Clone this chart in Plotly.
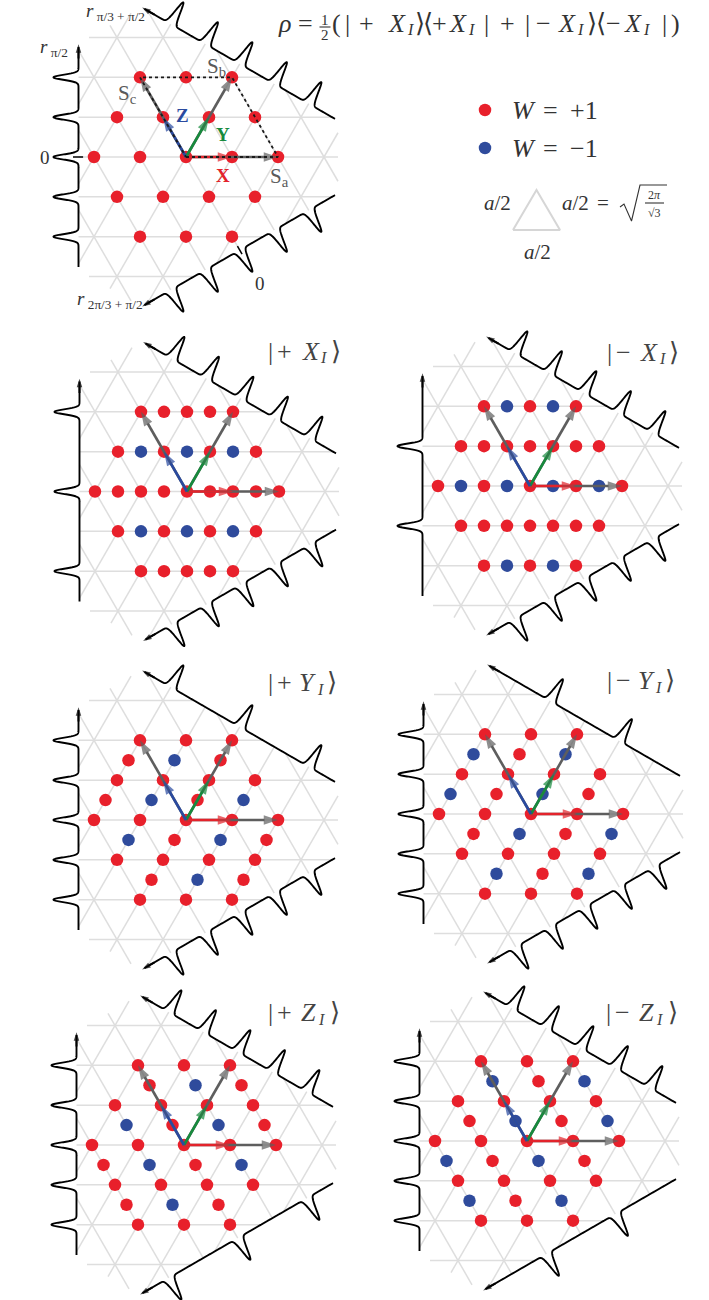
import numpy as np
import plotly.graph_objects as go

# ---------------- data ----------------
# dots: rows of (half-row index, x in quarter lattice units, W value)
RHO_ROWS = [
    (4, [-4, 0, 4], [1, 1, 1]),
    (2, [-6, -2, 2, 6], [1, 1, 1, 1]),
    (0, [-8, -4, 0, 4, 8], [1, 1, 1, 1, 1]),
    (-2, [-6, -2, 2, 6], [1, 1, 1, 1]),
    (-4, [-4, 0, 4], [1, 1, 1]),
]
PX_ROWS = [
    (4, [-4, -2, 0, 2, 4], [1, 1, 1, 1, 1]),
    (2, [-6, -4, -2, 0, 2, 4, 6], [1, -1, 1, -1, 1, -1, 1]),
    (0, [-8, -6, -4, -2, 0, 2, 4, 6, 8], [1, 1, 1, 1, 1, 1, 1, 1, 1]),
    (-2, [-6, -4, -2, 0, 2, 4, 6], [1, -1, 1, -1, 1, -1, 1]),
    (-4, [-4, -2, 0, 2, 4], [1, 1, 1, 1, 1]),
]
MX_ROWS = [
    (4, [-4, -2, 0, 2, 4], [1, -1, 1, -1, 1]),
    (2, [-6, -4, -2, 0, 2, 4, 6], [1, 1, 1, 1, 1, 1, 1]),
    (0, [-8, -6, -4, -2, 0, 2, 4, 6, 8], [1, -1, 1, -1, 1, -1, 1, -1, 1]),
    (-2, [-6, -4, -2, 0, 2, 4, 6], [1, 1, 1, 1, 1, 1, 1]),
    (-4, [-4, -2, 0, 2, 4], [1, -1, 1, -1, 1]),
]
PY_ROWS = [
    (4, [-4, 0, 4], [1, 1, 1]),
    (3, [-5, -1, 3], [1, -1, 1]),
    (2, [-6, -2, 2, 6], [1, 1, 1, 1]),
    (1, [-7, -3, 1, 5], [1, -1, 1, -1]),
    (0, [-8, -4, 0, 4, 8], [1, 1, 1, 1, 1]),
    (-1, [-5, -1, 3, 7], [-1, 1, -1, 1]),
    (-2, [-6, -2, 2, 6], [1, 1, 1, 1]),
    (-3, [-3, 1, 5], [1, -1, 1]),
    (-4, [-4, 0, 4], [1, 1, 1]),
]
MY_ROWS = [
    (4, [-4, 0, 4], [1, 1, 1]),
    (3, [-5, -1, 3], [-1, 1, -1]),
    (2, [-6, -2, 2, 6], [1, 1, 1, 1]),
    (1, [-7, -3, 1, 5], [-1, 1, -1, 1]),
    (0, [-8, -4, 0, 4, 8], [1, 1, 1, 1, 1]),
    (-1, [-5, -1, 3, 7], [1, -1, 1, -1]),
    (-2, [-6, -2, 2, 6], [1, 1, 1, 1]),
    (-3, [-3, 1, 5], [-1, 1, -1]),
    (-4, [-4, 0, 4], [1, 1, 1]),
]
PZ_ROWS = [
    (4, [-4, 0, 4], [1, 1, 1]),
    (3, [-3, 1, 5], [1, -1, 1]),
    (2, [-6, -2, 2, 6], [1, 1, 1, 1]),
    (1, [-5, -1, 3, 7], [-1, 1, -1, 1]),
    (0, [-8, -4, 0, 4, 8], [1, 1, 1, 1, 1]),
    (-1, [-7, -3, 1, 5], [1, -1, 1, -1]),
    (-2, [-6, -2, 2, 6], [1, 1, 1, 1]),
    (-3, [-5, -1, 3], [1, -1, 1]),
    (-4, [-4, 0, 4], [1, 1, 1]),
]
MZ_ROWS = [
    (4, [-4, 0, 4], [1, 1, 1]),
    (3, [-3, 1, 5], [-1, 1, -1]),
    (2, [-6, -2, 2, 6], [1, 1, 1, 1]),
    (1, [-5, -1, 3, 7], [1, -1, 1, -1]),
    (0, [-8, -4, 0, 4, 8], [1, 1, 1, 1, 1]),
    (-1, [-7, -3, 1, 5], [-1, 1, -1, 1]),
    (-2, [-6, -2, 2, 6], [1, 1, 1, 1]),
    (-3, [-5, -1, 3], [-1, 1, -1]),
    (-4, [-4, 0, 4], [1, 1, 1]),
]

# marginal peak positions (units of row spacing) on (left, upper, lower) axes
FIVE = [-2, -1, 0, 1, 2]
PEAKS = {
    "rho": (FIVE, FIVE, FIVE),
    "pX": ([-2, 0, 2], FIVE, FIVE),
    "mX": ([-1, 1], FIVE, FIVE),
    "pY": (FIVE, [-2, 0, 2], FIVE),
    "mY": (FIVE, [-1, 1], FIVE),
    "pZ": (FIVE, FIVE, [-2, 0, 2]),
    "mZ": (FIVE, FIVE, [-1, 1]),
}
ROWS = {"rho": RHO_ROWS, "pX": PX_ROWS, "mX": MX_ROWS, "pY": PY_ROWS,
        "mY": MY_ROWS, "pZ": PZ_ROWS, "mZ": MZ_ROWS}
# panel state labels: (sign, letter)
PANEL_STATES = {"pX": ("+", "X"), "mX": ("−", "X"), "pY": ("+", "Y"),
                "mY": ("−", "Y"), "pZ": ("+", "Z"), "mZ": ("−", "Z")}

# ---------------- layout constants ----------------
A = 46.0                 # px per lattice constant
H = np.sqrt(3) / 2       # row spacing in lattice units
ORIGINS = {"rho": (186, 157), "pX": (187, 491.5), "mX": (530, 486),
           "pY": (186, 820), "mY": (531, 814), "pZ": (184, 1145),
           "mZ": (527, 1141)}
# position of the leading "|" of each panel label and the cap-centre line
LABEL_POS = {"pX": (270.7, 351), "mX": (609.3, 352), "pY": (270.7, 682.5),
             "mY": (609.3, 680.5), "pZ": (270.7, 1012.5), "mZ": (608.5, 1012.5)}
LETTER_OFF = {"X": (40, 53, 65), "Y": (37, 49.5, 61), "Z": (38, 51, 64)}
D1 = 107.5 / A           # axis distance from origin
D2 = 152.0 / A           # corner cut distance
T = 110.0 / A            # axis half length
HP = 25.0 / A            # peak height
SIG = 2.5 / A            # peak width

RED = "#e8202b"
BLUE = "#2f4b9c"
GRAY_ARROW = "#5e5e5e"
ARROW_RED = "#e3232b"
ARROW_GREEN = "#178a3d"
ARROW_BLUE = "#2a4a9f"
LATTICE = "#dedede"
TXT = "#333333"
FONT = "Liberation Serif, DejaVu Serif, serif"

fig = go.Figure()


def to_px(o, x, y):
    return o[0] + A * np.asarray(x, float), o[1] - A * np.asarray(y, float)


def unit(deg):
    r = np.radians(deg)
    return np.array([np.cos(r), np.sin(r)])


HEX = [(180, D1), (60, D1), (300, D1), (0, D2), (120, D2), (240, D2)]


def clip(p0, d):
    s0, s1 = -30.0, 30.0
    for ang, c in HEX:
        n = unit(ang)
        nd = n @ d
        np0 = n @ p0
        if abs(nd) < 1e-12:
            if np0 > c:
                return None
            continue
        s = (c - np0) / nd
        if nd > 0:
            s1 = min(s1, s)
        else:
            s0 = max(s0, s)
    if s1 <= s0:
        return None
    return p0 + s0 * d, p0 + s1 * d


def arrow(x0, y0, x1, y1, color, width, head):
    fig.add_trace(go.Scatter(
        x=[x0, x1], y=[y0, y1], mode="lines+markers",
        line=dict(color=color, width=width),
        marker=dict(symbol="arrow", size=[0, head], color=color,
                    angleref="previous", line=dict(width=0)),
        hoverinfo="skip"))


AXES = [(180, 90), (60, 150), (300, 210)]   # (normal, direction) angles

for key in ["rho", "pX", "mX", "pY", "mY", "pZ", "mZ"]:
    o = ORIGINS[key]
    # lattice lines
    lx, ly = [], []
    fams = [(np.array([1.0, 0.0]), [np.array([0.0, j * H]) for j in range(-5, 6)]),
            (np.array([0.5, H]), [np.array([float(i), 0.0]) for i in range(-8, 9)]),
            (np.array([-0.5, H]), [np.array([float(i), 0.0]) for i in range(-8, 9)])]
    for d, starts in fams:
        for p0 in starts:
            seg = clip(p0, d)
            if seg is None:
                continue
            xs, ys = to_px(o, [seg[0][0], seg[1][0]], [seg[0][1], seg[1][1]])
            lx += list(xs) + [None]
            ly += list(ys) + [None]
    fig.add_trace(go.Scatter(x=lx, y=ly, mode="lines",
                             line=dict(color=LATTICE, width=1.5),
                             hoverinfo="skip"))
    # axes with marginal peaks
    t = np.linspace(-T, T, 900)
    for (na, da), pk in zip(AXES, PEAKS[key]):
        n, d = unit(na), unit(da)
        g = np.zeros_like(t)
        for m in pk:
            g += HP * np.exp(-(t - m * H) ** 2 / (2 * SIG ** 2))
        pts = (D1 + g)[:, None] * n[None, :] + t[:, None] * d[None, :]
        xs, ys = to_px(o, pts[:, 0], pts[:, 1])
        fig.add_trace(go.Scatter(x=xs, y=ys, mode="lines",
                                 line=dict(color="black", width=1.9, simplify=False),
                                 hoverinfo="skip"))
        a0 = D1 * n + (T - 0.25) * d
        a1 = D1 * n + (T + 0.06) * d
        ax, ay = to_px(o, [a0[0], a1[0]], [a0[1], a1[1]])
        arrow(ax[0], ay[0], ax[1], ay[1], "black", 1.9, 9)
    # dots
    for w, col in [(1, RED), (-1, BLUE)]:
        xs, ys = [], []
        for hy, qxs, ws in ROWS[key]:
            for qx, ww in zip(qxs, ws):
                if ww == w:
                    xs.append(qx / 4.0)
                    ys.append(hy / 2.0 * H)
        if xs:
            X, Y = to_px(o, xs, ys)
            fig.add_trace(go.Scatter(x=X, y=Y, mode="markers",
                                     marker=dict(color=col, size=12.5,
                                                 line=dict(width=0)),
                                     hoverinfo="skip"))
    # arrows: gray S vectors then colored X, Y, Z
    vx = np.array([1.0, 0.0])
    vy = np.array([0.5, H])
    vz = np.array([-0.5, H])
    for v in (vx, vy, vz):
        xs, ys = to_px(o, [0, 2 * v[0]], [0, 2 * v[1]])
        arrow(xs[0], ys[0], xs[1], ys[1], GRAY_ARROW, 2.6, 15)
    for v, c in ((vx, ARROW_RED), (vy, ARROW_GREEN), (vz, ARROW_BLUE)):
        xs, ys = to_px(o, [0, v[0]], [0, v[1]])
        arrow(xs[0], ys[0], xs[1], ys[1], c, 2.6, 15)
    if key == "rho":
        qx = [0, 2 * vx[0], 2 * vy[0], 2 * vz[0], 0]
        qy = [0, 2 * vx[1], 2 * vy[1], 2 * vz[1], 0]
        X, Y = to_px(o, qx, qy)
        fig.add_trace(go.Scatter(x=X, y=Y, mode="lines",
                                 line=dict(color="#1a1a1a", width=1.8, dash="dot"),
                                 hoverinfo="skip"))
        # zero ticks
        tx, ty = to_px(o, [-D1 - 0.12, -D1 + 0.1], [0, 0])
        fig.add_trace(go.Scatter(x=tx, y=ty, mode="lines",
                                 line=dict(color="black", width=1.5),
                                 hoverinfo="skip"))
        n = unit(300)
        b0, b1 = (D1 - 0.1) * n, (D1 + 0.1) * n
        tx, ty = to_px(o, [b0[0], b1[0]], [b0[1], b1[1]])
        fig.add_trace(go.Scatter(x=tx, y=ty, mode="lines",
                                 line=dict(color="black", width=1.5),
                                 hoverinfo="skip"))

# legend dots and triangle
fig.add_trace(go.Scatter(x=[485, 485], y=[110, 148], mode="markers",
                         marker=dict(color=[RED, BLUE], size=12.5, line=dict(width=0)),
                         hoverinfo="skip"))
fig.add_trace(go.Scatter(x=[513, 560, 536.5, 513], y=[230, 230, 190, 230], mode="lines",
                         line=dict(color="#d6d6d6", width=2), hoverinfo="skip"))
# radical sign, inner fraction bar, title fraction bar
fig.add_trace(go.Scatter(x=[620, 624, 631.5, 640, 667, None, 645, 664, None, 319.5, 330.5],
                         y=[207, 204, 221, 185, 185, None, 203, 203, None, 27, 27],
                         mode="lines", line=dict(color=TXT, width=1.1),
                         hoverinfo="skip"))

ann = []


def text(x, y, s, size, color=TXT, xanchor="center", family=FONT):
    ann.append(dict(x=x, y=y, xref="x", yref="y", text=s, showarrow=False,
                    xanchor=xanchor, yanchor="middle",
                    font=dict(family=family, size=size, color=color)))


def pieces(items, y, size, sub_size, color=TXT):
    for s, x, kind in items:
        if kind == "sub":
            text(x, y + 6.5, s, sub_size, color=color)
        else:
            text(x, y, s, size, color=color)


# title formula
TITLE = [("<i>ρ</i>", 284, "m"), ("=", 305.5, "m"), ("(", 336, "m"),
         ("|", 347, "m"), ("+", 366, "m"), ("<i>X</i>", 397, "m"),
         ("<i>I</i>", 410, "sub"), ("⟩", 420, "m"), ("⟨", 428, "m"),
         ("+", 439, "m"), ("<i>X</i>", 458, "m"), ("<i>I</i>", 471, "sub"),
         ("|", 486, "m"), ("+", 507, "m"), ("|", 527, "m"), ("−", 543, "m"),
         ("<i>X</i>", 567, "m"), ("<i>I</i>", 580, "sub"), ("⟩", 592, "m"),
         ("⟨", 601, "m"), ("−", 613, "m"), ("<i>X</i>", 633, "m"),
         ("<i>I</i>", 646, "sub"), ("|", 664, "m"), (")", 675, "m")]
pieces(TITLE, 23, 26, 16)
text(325, 19.5, "1", 15)
text(325, 35, "2", 15)

# legend
pieces([("<i>W</i>", 524, "m"), ("=", 550, "m"), ("+1", 584, "m")], 110, 26, 15)
pieces([("<i>W</i>", 524, "m"), ("=", 550, "m"), ("−1", 584, "m")], 148.5, 26, 15)
text(497, 203, "<i>a</i>/2", 21)
text(537, 252, "<i>a</i>/2", 21)
text(575, 203, "<i>a</i>/2", 21)
text(603, 203, "=", 21)
text(654.5, 195, "2<i>π</i>", 12)
text(654.5, 213, "√3", 12)
# top panel axis labels
text(54, 48, "<i>r</i><sub> π/2</sub>", 19)
text(115, 12, "<i>r</i><sub> π/3 + π/2</sub>", 19)
text(110, 300, "<i>r</i><sub> 2π/3 + π/2</sub>", 19)
text(45, 157, "0", 19)
text(260, 283, "0", 19)
# vector labels
text(127, 94, "S<sub>c</sub>", 21, color="#5a5a5a")
text(216, 67, "S<sub>b</sub>", 21, color="#5a5a5a")
text(279, 177, "S<sub>a</sub>", 21, color="#5a5a5a")
text(182, 115, "<b>Z</b>", 19, color=ARROW_BLUE)
text(223, 134, "<b>Y</b>", 19, color=ARROW_GREEN)
text(223, 175, "<b>X</b>", 19, color=ARROW_RED)
# panel labels
for k, (sign, letter) in PANEL_STATES.items():
    x0, y0 = LABEL_POS[k]
    lo = LETTER_OFF[letter]
    pieces([("|", x0, "m"), (sign, x0 + 14, "m"),
            ("<i>%s</i>" % letter, x0 + lo[0], "m"),
            ("<i>I</i>", x0 + lo[1], "sub"), ("⟩", x0 + lo[2], "m")],
           y0, 26, 16, color="#444444")

fig.update_layout(
    width=709, height=1300, margin=dict(l=0, r=0, t=0, b=0),
    paper_bgcolor="white", plot_bgcolor="white", showlegend=False,
    xaxis=dict(range=[0, 709], visible=False, fixedrange=True),
    yaxis=dict(range=[1300, 0], visible=False, fixedrange=True),
    annotations=ann,
)
fig.write_html("out.html", config={"displayModeBar": False})
